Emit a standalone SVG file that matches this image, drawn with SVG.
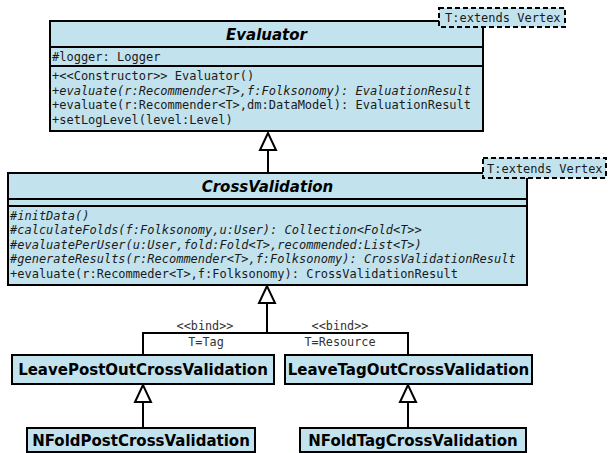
<svg xmlns="http://www.w3.org/2000/svg" width="608" height="453" viewBox="0 0 608 453">
<style>
.box{fill:#c2e3ee;stroke:#000;stroke-width:2}
.div{stroke:#000;stroke-width:2}
.tpl{fill:#c2e3ee;stroke:#000;stroke-width:2;stroke-dasharray:5,3}
.mono{font-family:"DejaVu Sans Mono",monospace;font-size:12px;fill:#1a1a1a}
.it{font-style:italic}
.title{font-family:"DejaVu Sans",sans-serif;font-weight:bold;font-size:15px;fill:#000;text-anchor:middle}
.ti{font-style:italic}
.edge{fill:none;stroke:#000;stroke-width:2}
.tri{fill:#fff;stroke:#000;stroke-width:2}
.lbl{font-family:"DejaVu Sans Mono",monospace;font-size:11.8px;fill:#333;text-anchor:middle}
</style>
<g id="connectors">
<line class="edge" x1="268" y1="150" x2="268" y2="173"/>
<polygon class="tri" points="268,133 260,150 276,150"/>
<polyline class="edge" points="143,355 143,333 408,333 408,355"/>
<line class="edge" x1="267" y1="303" x2="267" y2="333"/>
<polygon class="tri" points="267,286 259,303 275,303"/>
<line class="edge" x1="143" y1="402" x2="143" y2="428"/>
<polygon class="tri" points="143,385 135,402 151,402"/>
<line class="edge" x1="408" y1="402" x2="408" y2="428"/>
<polygon class="tri" points="408,385 400,402 416,402"/>
<text class="lbl" x="205" y="330">&lt;&lt;bind&gt;&gt;</text>
<text class="lbl" x="206" y="346">T=Tag</text>
<text class="lbl" x="340" y="330">&lt;&lt;bind&gt;&gt;</text>
<text class="lbl" x="340" y="346">T=Resource</text>
</g>
<g id="Evaluator">
<rect class="box" x="50" y="21" width="433" height="110"/>
<line class="div" x1="50" y1="47" x2="483" y2="47"/>
<line class="div" x1="50" y1="66" x2="483" y2="66"/>
<text class="title ti" x="266.5" y="39.5">Evaluator</text>
<text class="mono" x="52" y="61">#logger: Logger</text>
<text class="mono" x="52" y="80">+&lt;&lt;Constructor&gt;&gt; Evaluator()</text>
<text class="mono it" x="52" y="94.5">+evaluate(r:Recommender&lt;T&gt;,f:Folksonomy): EvaluationResult</text>
<text class="mono" x="52" y="109">+evaluate(r:Recommender&lt;T&gt;,dm:DataModel): EvaluationResult</text>
<text class="mono" x="52" y="123.5">+setLogLevel(level:Level)</text>
<rect class="tpl" x="439" y="8" width="126" height="19"/>
<text class="mono" x="445" y="22">T:extends Vertex</text>
</g>
<g id="CrossValidation">
<rect class="box" x="8" y="173" width="519" height="112"/>
<line class="div" x1="8" y1="199" x2="527" y2="199"/>
<line class="div" x1="8" y1="206" x2="527" y2="206"/>
<text class="title ti" x="267.5" y="191.5">CrossValidation</text>
<text class="mono it" x="10" y="219.5">#initData()</text>
<text class="mono it" x="10" y="234">#calculateFolds(f:Folksonomy,u:User): Collection&lt;Fold&lt;T&gt;&gt;</text>
<text class="mono it" x="10" y="248.5">#evaluatePerUser(u:User,fold:Fold&lt;T&gt;,recommended:List&lt;T&gt;)</text>
<text class="mono it" x="10" y="263">#generateResults(r:Recommender&lt;T&gt;,f:Folksonomy): CrossValidationResult</text>
<text class="mono" x="10" y="277.5">+evaluate(r:Recommeder&lt;T&gt;,f:Folksonomy): CrossValidationResult</text>
<rect class="tpl" x="483" y="158" width="123" height="20"/>
<text class="mono" x="487" y="172.5">T:extends Vertex</text>
</g>
<g id="LeavePostOutCrossValidation">
<rect class="box" x="12" y="355" width="262" height="29"/>
<text class="title" x="143" y="375">LeavePostOutCrossValidation</text>
</g>
<g id="LeaveTagOutCrossValidation">
<rect class="box" x="285" y="355" width="247" height="29"/>
<text class="title" x="408.5" y="375">LeaveTagOutCrossValidation</text>
</g>
<g id="NFoldPostCrossValidation">
<rect class="box" x="27" y="428" width="228" height="24"/>
<text class="title" x="141" y="445.5">NFoldPostCrossValidation</text>
</g>
<g id="NFoldTagCrossValidation">
<rect class="box" x="300" y="428" width="226" height="24"/>
<text class="title" x="413" y="445.5">NFoldTagCrossValidation</text>
</g>
</svg>
